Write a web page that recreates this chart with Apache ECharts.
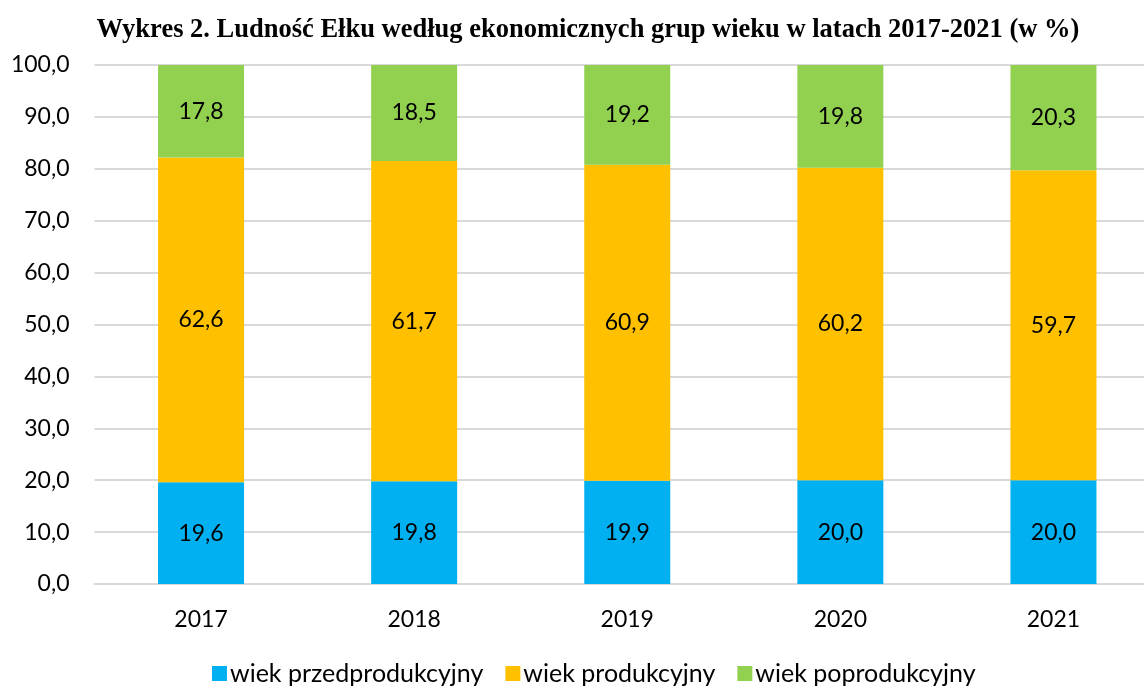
<!DOCTYPE html>
<html><head><meta charset="utf-8">
<script src="https://cdn.jsdelivr.net/npm/echarts@6/dist/echarts.min.js"></script>
<style>html,body{margin:0;padding:0;background:#fff}#c{width:1144px;height:693px}</style>
</head><body><div id="c"></div>
<script>
const years = ['2017', '2018', '2019', '2020', '2021'];
const przedprodukcyjny = [19.6, 19.8, 19.9, 20.0, 20.0];
const produkcyjny = [62.6, 61.7, 60.9, 60.2, 59.7];
const poprodukcyjny = [17.8, 18.5, 19.2, 19.8, 20.3];
const seriesNames = ['wiek przedprodukcyjny', 'wiek produkcyjny', 'wiek poprodukcyjny'];
const titleText = 'Wykres 2. Ludność Ełku według ekonomicznych grup wieku w latach 2017-2021 (w %)';

const fmt = v => Number(v).toFixed(1).replace('.', ',');
const font = 'Lato';
const chart = echarts.init(document.getElementById('c'));
const colors = ['#00B0F0', '#FFC000', '#92D050'];
const mk = (name, data, color) => ({
  name, type: 'bar', stack: 'a', data, barWidth: 86,
  itemStyle: { color },
  label: { show: true, position: 'inside', color: '#000', fontFamily: font, fontSize: 23,
    formatter: p => fmt(p.value) }
});
chart.setOption({
  animation: false,
  title: { text: titleText, left: 583, top: 12, textAlign: 'center',
    textStyle: { fontFamily: 'Liberation Serif', fontWeight: 'bold', fontSize: 26.5, color: '#000' } },
  grid: { left: 94.5, width: 1065.5, top: 65, bottom: 109, containLabel: false, outerBoundsMode: 'none' },
  legend: { top: 661, left: 212, itemWidth: 15, itemHeight: 15, itemGap: 22, padding: 0,
    icon: 'rect',
    textStyle: { fontFamily: font, fontSize: 25, color: '#000', padding: [0, 0, 0, -2] },
    data: seriesNames },
  xAxis: { type: 'category', data: years,
    axisLine: { lineStyle: { color: '#D9D9D9', width: 2 } }, axisTick: { show: false },
    axisLabel: { fontFamily: font, fontSize: 23, color: '#000', margin: 24 } },
  yAxis: { type: 'value', min: 0, max: 100, interval: 10,
    axisLine: { show: false }, axisTick: { show: false },
    splitLine: { lineStyle: { color: '#D9D9D9', width: 2 } },
    axisLabel: { fontFamily: font, fontSize: 23, color: '#000', margin: 25, formatter: fmt } },
  series: [
    mk(seriesNames[0], przedprodukcyjny, colors[0]),
    mk(seriesNames[1], produkcyjny, colors[1]),
    mk(seriesNames[2], poprodukcyjny, colors[2])
  ]
});
</script></body></html>
